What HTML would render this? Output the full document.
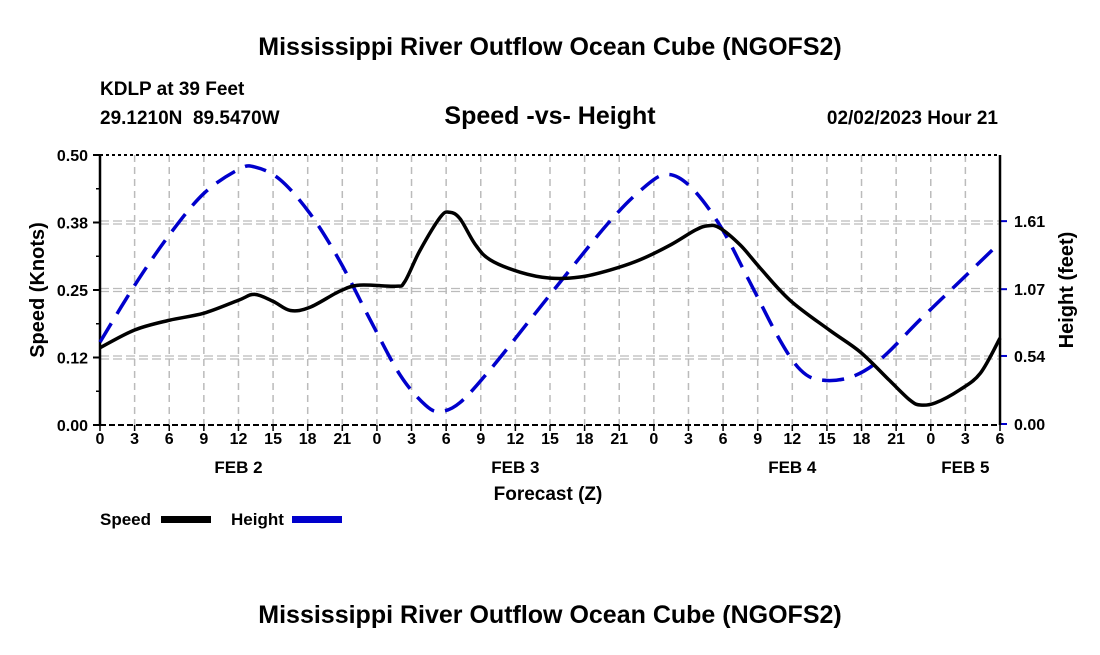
<!DOCTYPE html>
<html><head><meta charset="utf-8"><style>
body{margin:0;background:#fff;width:1100px;height:650px;overflow:hidden}
svg text{font-family:"Liberation Sans",Arial,sans-serif;font-weight:bold;fill:#000;white-space:pre}
</style></head><body>
<svg id="c" width="1100" height="650">
<text x="550" y="55" font-size="25" text-anchor="middle">Mississippi River Outflow Ocean Cube (NGOFS2)</text>
<text x="100" y="95" font-size="19">KDLP at 39 Feet</text>
<text x="100" y="124" font-size="19">29.1210N  89.5470W</text>
<text x="550" y="124" font-size="25" text-anchor="middle">Speed -vs- Height</text>
<text x="998" y="124" font-size="19" text-anchor="end">02/02/2023 Hour 21</text>
<text x="550" y="623" font-size="25" text-anchor="middle">Mississippi River Outflow Ocean Cube (NGOFS2)</text>
<text x="548" y="500" font-size="19" text-anchor="middle">Forecast (Z)</text>
<text transform="translate(44,290) rotate(-90)" font-size="20" text-anchor="middle">Speed (Knots)</text>
<text transform="translate(1073,290) rotate(-90)" font-size="20" text-anchor="middle">Height (feet)</text>
<g>
<text x="100" y="525" font-size="17">Speed</text>
<rect x="161" y="516" width="50" height="7" fill="#000"/>
<text x="231" y="525" font-size="17">Height</text>
<rect x="292" y="516" width="50" height="7" fill="#0000cc"/>
</g>
<g id="grid"></g><g id="axes"></g><g id="series"></g>
</svg>
<script>
const xTicks=[0,3,6,9,12,15,18,21,0,3,6,9,12,15,18,21,0,3,6,9,12,15,18,21,0,3,6];
const dayLabels=["FEB 2","FEB 3","FEB 4","FEB 5"];
const dayHours=[12,36,60,75];
const speedTicks=[0,0.125,0.25,0.375,0.5];
const speedTickLabels=["0.00","0.12","0.25","0.38","0.50"];
const heightTicks=[0,0.54,1.07,1.61];
const speedHours=[0,3,6,9,12,13.4,15,16.5,18.2,20.8,22.5,25.6,26.4,27.7,29.5,30.3,31.2,32.5,33.8,36.4,39,41.6,44.2,46.8,49.4,51.6,52.7,53.7,55.5,57.2,59.8,63.2,65.9,68.4,70.2,71.1,72.4,74.5,76.3,78];
const speedValues=[0.143,0.176,0.194,0.207,0.231,0.242,0.229,0.212,0.218,0.248,0.259,0.257,0.265,0.322,0.385,0.394,0.382,0.335,0.306,0.283,0.272,0.274,0.287,0.306,0.333,0.361,0.369,0.365,0.333,0.291,0.231,0.176,0.135,0.083,0.046,0.037,0.041,0.065,0.096,0.161];
const heightHours=[0,3,6,9,12,13.4,15.6,18.2,20.8,23.4,26,28.2,29.5,31.2,33.8,37.3,40.7,44.2,46.8,49,51.1,53.7,56.3,58.9,60.7,62.4,65,67.6,71.1,74.5,78];
const heightValues=[0.65,1.10,1.50,1.83,2.02,2.04,1.94,1.67,1.29,0.83,0.39,0.15,0.10,0.17,0.43,0.83,1.22,1.61,1.85,1.98,1.89,1.58,1.13,0.67,0.43,0.35,0.37,0.51,0.83,1.13,1.44];

const X0=100,X1=1000,YT=155,YB=425;
const xs=h=>X0+h/78*(X1-X0);
const ys=v=>YB-v/0.5*(YB-YT);
const yh=v=>424-v*126;
const NS="http://www.w3.org/2000/svg";
function mk(tag,attrs,parent){const e=document.createElementNS(NS,tag);for(const k in attrs)e.setAttribute(k,attrs[k]);document.getElementById(parent).appendChild(e);return e;}
xTicks.forEach((t,i)=>{const x=xs(i*3);
 let g=mk('line',{x1:x,x2:x,y1:YT,y2:YB,stroke:'#bbb','stroke-width':1.5,'stroke-dasharray':'7 5'},'grid');
 
 
 let tk=mk('line',{x1:x,x2:x,y1:YB,y2:YB+6,stroke:'#000','stroke-width':1.5},'axes');
 
 
 let tl=mk('text',{x:x,y:YB+19,'font-size':16,'text-anchor':'middle'},'axes');tl.textContent=t;
 
 
});
dayLabels.forEach((d,i)=>{let t=mk('text',{x:xs(dayHours[i]),y:473,'font-size':17,'text-anchor':'middle'},'axes');t.textContent=d;
 
 });
speedTicks.forEach((v,i)=>{const y=ys(v);
 if(v>0&&v<0.5){[-1.5,1.5].forEach(o=>{let g=mk('line',{x1:X0,x2:X1,y1:y+o,y2:y+o,stroke:'#bbb','stroke-width':1.3,'stroke-dasharray':'9 4'},'grid');
  
  });}
 let tk=mk('line',{x1:X0-7,x2:X0,y1:y,y2:y,stroke:'#000','stroke-width':2},'axes');
 
 
 let tl=mk('text',{x:X0-12,y:y+6,'font-size':16,'text-anchor':'end'},'axes');tl.textContent=speedTickLabels[i];
 
 
});
for(let v=0.0625;v<0.5;v+=0.125){let m=mk('line',{x1:X0-4,x2:X0,y1:ys(v),y2:ys(v),stroke:'#000','stroke-width':1.5},'axes');
 
 }
heightTicks.forEach(v=>{const y=yh(v);
 let tk=mk('line',{x1:X1,x2:X1+7,y1:y,y2:y,stroke:'#0000cc','stroke-width':2},'axes');
 
 
 let tl=mk('text',{x:X1+14,y:y+6,'font-size':16},'axes');tl.textContent=v.toFixed(2);
 
 
});
[[X0,YT,X1,YT,'3 3'],[X0,YB,X1,YB,'6 3']].forEach(a=>{let l=mk('line',{x1:a[0],y1:a[1],x2:a[2],y2:a[3],stroke:'#000','stroke-width':2,'stroke-dasharray':a[4]},'axes');
 
 });
[X0,X1].forEach(x=>{let l=mk('line',{x1:x,y1:YT,x2:x,y2:YB,stroke:'#000','stroke-width':2.5},'axes');
 
 });
function smooth(p){let d='M'+p[0][0]+','+p[0][1];
 for(let i=0;i<p.length-1;i++){const a=p[i-1]||p[i],b=p[i],c=p[i+1],e=p[i+2]||c;
  d+=` C${b[0]+(c[0]-a[0])/6},${b[1]+(c[1]-a[1])/6} ${c[0]-(e[0]-b[0])/6},${c[1]-(e[1]-b[1])/6} ${c[0]},${c[1]}`;}return d;}
let hp=mk('path',{d:smooth(heightHours.map((h,i)=>[xs(h),yh(heightValues[i])])),fill:'none',stroke:'#0000cc','stroke-width':3.5,'stroke-dasharray':'22 11'},'series');


let sp=mk('path',{d:smooth(speedHours.map((h,i)=>[xs(h),ys(speedValues[i])])),fill:'none',stroke:'#000','stroke-width':3.5},'series');


</script>
</body></html>
